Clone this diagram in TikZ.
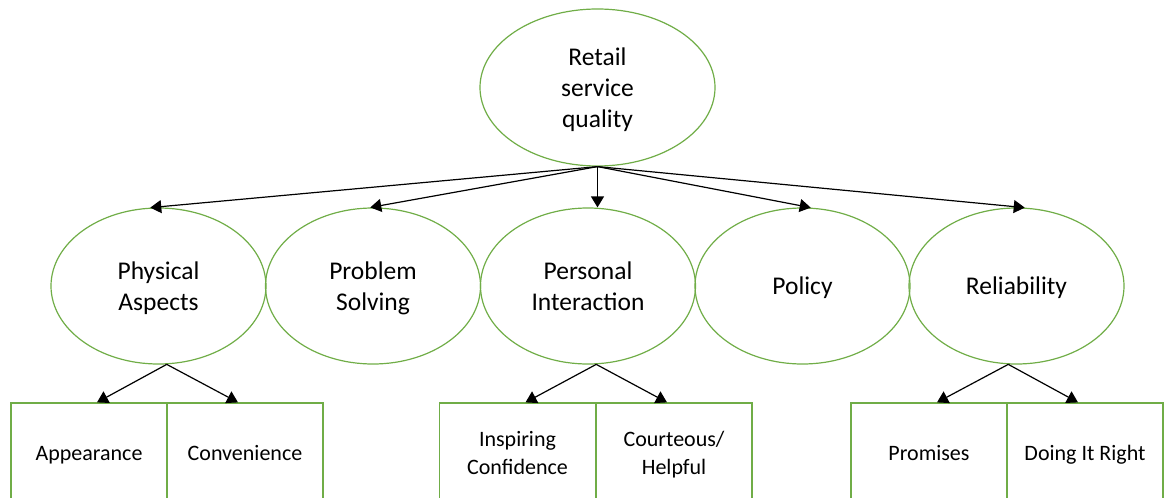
\documentclass[tikz,border=0pt]{standalone}
\usepackage{fontspec}
\setmainfont{Carlito}
\usepackage{xcolor}
\usetikzlibrary{shapes.geometric,arrows.meta}
\definecolor{leaf}{HTML}{70AD47}

\begin{document}
\begin{tikzpicture}[x=1pt, y=-1pt,
          oval/.style={draw=leaf, line width=1.2pt, ellipse, minimum width=215pt, minimum height=156pt, inner sep=0pt, align=center, text depth=0pt, font=\fontsize{25.5}{31}\selectfont},
          box/.style={draw=leaf, line width=1.2pt, minimum width=156pt, minimum height=100pt, inner sep=0pt, align=center, text depth=0pt, font=\fontsize{22}{28}\selectfont},
          arr/.style={-{Triangle[length=11pt,width=13pt]}, line width=1.2pt}
        ]
          \useasboundingbox (0,0) rectangle (1165,498);

          % Top
          \node[oval, minimum width=235pt, minimum height=157pt] (rsq) at (597.5,87.5) {Retail\\service\\quality};

          % Dimensions
          \node[oval] (phys) at (158.5,286) {Physical\\Aspects};
          \node[oval] (prob) at (373,286) {Problem\\Solving};
          \node[oval] (pers) at (588,286) {Personal\\Interaction};
          \node[oval] (pol) at (802.5,286) {Policy};
          \node[oval] (rel) at (1016.5,286) {Reliability};

          % Sub-dimensions
          \node[box] (app) at (89,453) {Appearance};
          \node[box] (conv) at (245,453) {Convenience};
          \node[box] (insp) at (517.5,453) {Inspiring\\Confidence};
          \node[box] (court) at (674,453) {Courteous/\\Helpful};
          \node[box] (prom) at (929,453) {Promises};
          \node[box] (right) at (1085,453) {Doing It Right};

          \draw[arr] (rsq.south) -- (phys.96);
          \draw[arr] (rsq.south) -- (prob.92);
          \draw[arr] (rsq.south) -- (rsq.south |- pers.north);
          \draw[arr] (rsq.south) -- (pol.84);
          \draw[arr] (rsq.south) -- (rel.84);

          \draw[arr] (phys.-84) -- ([xshift=8pt]app.north);
          \draw[arr] (phys.-84) -- ([xshift=-7pt]conv.north);
          \draw[arr] (pers.-84) -- ([xshift=8pt]insp.north);
          \draw[arr] (pers.-84) -- ([xshift=-7pt]court.north);
          \draw[arr] (rel.-96) -- ([xshift=8pt]prom.north);
          \draw[arr] (rel.-96) -- ([xshift=-7pt]right.north);
        \end{tikzpicture}
\end{document}
